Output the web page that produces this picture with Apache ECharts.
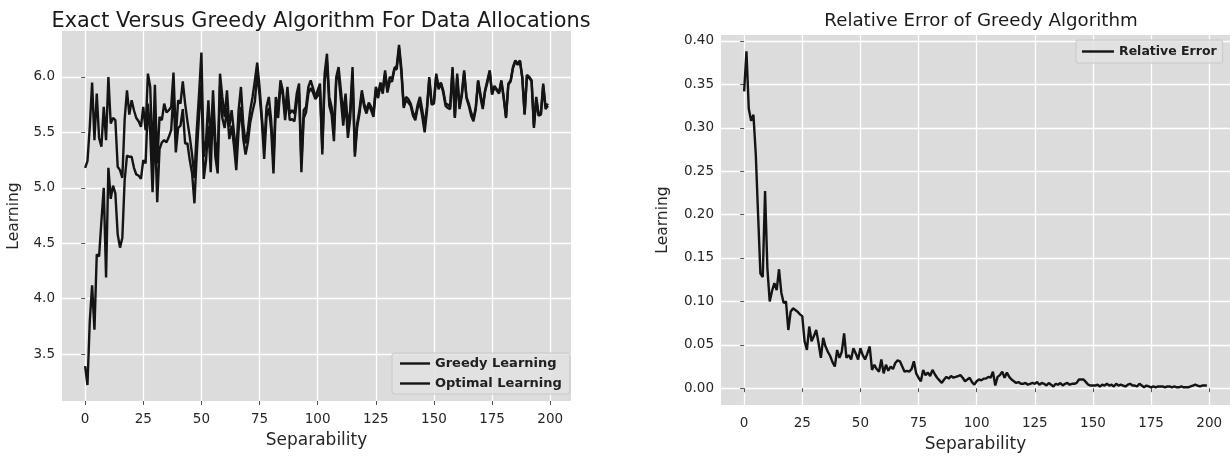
<!DOCTYPE html>
<html><head><meta charset="utf-8">
<script src="https://cdn.jsdelivr.net/npm/echarts@6/dist/echarts.min.js"></script>
<style>html,body{margin:0;padding:0;background:#fff}#c{width:1230px;height:458px}</style>
</head><body><div id="c"></div><script>
const leftTitle = 'Exact Versus Greedy Algorithm For Data Allocations';
const rightTitle = 'Relative Error of Greedy Algorithm';
const xName = 'Separability';
const yName = 'Learning';
const xTicks = [0, 25, 50, 75, 100, 125, 150, 175, 200];
const leftYTicks = [3.5, 4.0, 4.5, 5.0, 5.5, 6.0];
const rightYTicks = [0, 0.05, 0.10, 0.15, 0.20, 0.25, 0.30, 0.35, 0.40];

const optimalLearning = [
5.18,5.24,5.55,5.95,5.43,5.85,5.45,5.37,5.73,5.43,
6.00,5.58,5.63,5.61,5.19,5.16,5.09,5.62,5.88,5.66,
5.79,5.70,5.63,5.60,5.55,5.73,5.52,6.03,5.91,5.24,
5.93,5.22,5.64,5.61,5.76,5.68,5.70,5.73,6.04,5.46,
5.79,5.76,5.96,5.76,5.60,5.46,5.30,5.09,5.52,5.85,
6.22,5.28,5.43,5.79,5.40,5.88,5.43,5.25,6.03,5.82,
5.64,5.88,5.55,5.70,5.50,5.31,5.70,5.91,5.58,5.40,
5.52,5.70,5.82,5.97,6.13,5.91,5.64,5.37,5.73,5.82,
5.61,5.24,5.82,5.70,5.97,5.88,5.67,5.91,5.67,5.70,
5.67,5.85,5.94,5.22,5.70,5.73,5.91,5.97,5.90,5.82,
5.88,5.94,5.35,6.03,6.21,5.82,5.73,5.52,6.00,6.09,
5.88,5.67,5.85,5.55,5.70,6.09,5.32,5.58,5.71,5.88,
5.76,5.70,5.77,5.73,5.67,5.91,5.85,5.95,5.89,6.06,
5.88,6.00,5.98,6.08,6.10,6.29,6.08,5.74,5.82,5.80,
5.76,5.68,5.64,5.75,5.82,5.70,5.56,5.73,6.00,5.77,
5.78,6.03,5.91,5.95,5.88,5.76,5.75,5.73,6.09,5.64,
6.03,5.73,5.85,6.06,5.82,5.76,5.68,5.62,5.73,5.97,
5.85,5.73,5.88,5.97,6.06,5.85,5.92,5.89,5.86,5.97,
5.82,5.64,5.94,5.97,6.09,6.15,6.12,6.15,6.00,5.67,
6.02,6.00,5.97,5.56,5.82,5.67,5.67,5.94,5.73,5.76
];

const greedyLearning = [
3.39,3.22,3.80,4.12,3.72,4.40,4.38,4.70,5.00,4.19,
5.18,4.90,5.02,4.95,4.58,4.46,4.55,5.07,5.29,5.28,
5.28,5.18,5.12,5.11,5.08,5.25,5.22,5.76,5.49,4.96,
5.57,4.87,5.35,5.41,5.43,5.41,5.46,5.52,5.86,5.32,
5.54,5.56,5.71,5.40,5.40,5.25,5.13,4.86,5.30,5.66,
5.93,5.08,5.25,5.56,5.14,5.76,5.28,5.13,5.92,5.63,
5.54,5.72,5.44,5.56,5.38,5.16,5.52,5.73,5.44,5.30,
5.41,5.59,5.69,5.78,6.03,5.84,5.60,5.26,5.64,5.72,
5.53,5.13,5.73,5.63,5.92,5.84,5.61,5.83,5.61,5.62,
5.60,5.77,5.86,5.14,5.63,5.68,5.85,5.90,5.86,5.80,
5.83,5.88,5.30,5.96,6.14,5.74,5.66,5.42,5.98,6.01,
5.79,5.56,5.78,5.45,5.63,6.03,5.28,5.55,5.67,5.85,
5.73,5.67,5.75,5.70,5.64,5.88,5.81,5.93,5.85,6.03,
5.86,5.96,5.96,6.07,6.07,6.26,6.04,5.72,5.79,5.77,
5.74,5.65,5.61,5.72,5.76,5.64,5.50,5.69,5.98,5.75,
5.76,6.01,5.89,5.94,5.86,5.74,5.72,5.71,6.07,5.63,
6.00,5.71,5.83,6.04,5.81,5.74,5.65,5.60,5.71,5.96,
5.82,5.71,5.87,5.95,6.05,5.84,5.91,5.88,5.85,5.96,
5.81,5.63,5.93,5.96,6.08,6.14,6.11,6.14,5.99,5.66,
6.01,5.99,5.96,5.54,5.80,5.65,5.66,5.92,5.71,5.74
];

const relativeError = [
0.342,0.388,0.322,0.308,0.315,0.270,0.200,0.132,0.128,0.227,
0.138,0.100,0.112,0.121,0.113,0.137,0.110,0.098,0.100,0.067,
0.088,0.092,0.090,0.088,0.085,0.083,0.054,0.044,0.071,0.054,
0.060,0.067,0.052,0.035,0.058,0.048,0.042,0.037,0.030,0.025,
0.044,0.035,0.042,0.063,0.035,0.038,0.033,0.046,0.040,0.033,
0.046,0.038,0.033,0.040,0.048,0.021,0.027,0.022,0.019,0.033,
0.017,0.027,0.020,0.025,0.022,0.029,0.032,0.031,0.025,0.019,
0.020,0.019,0.022,0.031,0.017,0.012,0.008,0.021,0.015,0.018,
0.014,0.021,0.016,0.012,0.009,0.006,0.010,0.013,0.011,0.014,
0.012,0.013,0.014,0.015,0.012,0.008,0.010,0.012,0.007,0.004,
0.008,0.010,0.009,0.011,0.011,0.013,0.012,0.019,0.003,0.013,
0.015,0.019,0.012,0.018,0.013,0.010,0.008,0.006,0.007,0.005,
0.005,0.006,0.004,0.005,0.006,0.005,0.007,0.004,0.006,0.005,
0.003,0.006,0.004,0.002,0.005,0.004,0.006,0.003,0.005,0.006,
0.004,0.005,0.005,0.006,0.010,0.010,0.010,0.007,0.004,0.003,
0.003,0.003,0.004,0.002,0.004,0.003,0.005,0.003,0.004,0.002,
0.005,0.003,0.004,0.003,0.002,0.004,0.005,0.003,0.003,0.002,
0.005,0.003,0.001,0.003,0.002,0.001,0.002,0.001,0.002,0.002,
0.002,0.001,0.002,0.002,0.001,0.002,0.001,0.001,0.002,0.001,
0.001,0.001,0.002,0.003,0.004,0.003,0.002,0.003,0.003,0.003
];

const FONT = 'DejaVu Sans';
const TXT = '#262626';
const BG = '#dcdcdc';
const LINE = '#141414';

function xAxisCfg(gridIndex) {
  return {
    type: 'value', gridIndex, min: -9.95, max: 208.95,
    name: xName, nameLocation: 'middle', nameGap: 31,
    nameTextStyle: { fontFamily: FONT, fontSize: 17, color: TXT },
    axisLine: { show: false },
    axisTick: { show: true, customValues: xTicks, length: 4, lineStyle: { color: '#555', width: 1 } },
    axisLabel: { customValues: xTicks, fontFamily: FONT, fontSize: 13.5, color: TXT, margin: 11 },
    splitLine: { show: true, lineStyle: { color: '#ffffff', width: 1.3 } }
  };
}
function yAxisCfg(gridIndex, min, max, ticks, digits, gap) {
  return {
    type: 'value', gridIndex, min, max,
    name: yName, nameLocation: 'middle', nameGap: gap,
    nameTextStyle: { fontFamily: FONT, fontSize: 15.5, color: TXT },
    axisLine: { show: false },
    axisTick: { show: true, customValues: ticks, length: 4, lineStyle: { color: '#555', width: 1 } },
    axisLabel: { customValues: ticks, fontFamily: FONT, fontSize: 13.5, color: TXT, margin: 7,
      formatter: v => Number(v).toFixed(digits) },
    splitLine: { show: true, lineStyle: { color: '#ffffff', width: 1.3 } }
  };
}

const legendText = { fontFamily: FONT, fontSize: 13, fontWeight: 'bold', color: '#202020' };

const chart = echarts.init(document.getElementById('c'), null, { renderer: 'canvas' });
chart.setOption({
  backgroundColor: '#ffffff',
  animation: false,
  title: [
    { text: leftTitle, left: 316, top: 6, textAlign: 'center',
      textStyle: { fontFamily: FONT, fontSize: 20.8, fontWeight: 'normal', color: '#1a1a1a' } },
    { text: rightTitle, left: 976, top: 7, textAlign: 'center',
      textStyle: { fontFamily: FONT, fontSize: 18.2, fontWeight: 'normal', color: '#1a1a1a' } }
  ],
  grid: [
    { left: 62, top: 31, width: 509, height: 370, show: true, backgroundColor: BG, borderWidth: 0 },
    { left: 721, top: 35, width: 510, height: 373, show: true, backgroundColor: BG, borderWidth: 0 }
  ],
  xAxis: [xAxisCfg(0), xAxisCfg(1)],
  yAxis: [
    yAxisCfg(0, 3.076, 6.415, leftYTicks, 1, 40),
    yAxisCfg(1, -0.0194, 0.4069, rightYTicks, 2, 50)
  ],
  legend: [
    { data: ['Greedy Learning', 'Optimal Learning'], orient: 'vertical', left: 392, top: 353,
      icon: 'rect', itemWidth: 30, itemHeight: 2.4, itemGap: 7, padding: [4, 8, 4, 8],
      backgroundColor: 'rgba(226,226,226,0.85)', borderColor: '#c8c8c8', borderWidth: 1, borderRadius: 2,
      textStyle: legendText },
    { data: ['Relative Error'], orient: 'vertical', left: 1076, top: 40,
      icon: 'rect', itemWidth: 32, itemHeight: 2.4, padding: [5, 6, 5, 6],
      backgroundColor: 'rgba(226,226,226,0.85)', borderColor: '#c8c8c8', borderWidth: 1, borderRadius: 2,
      textStyle: Object.assign({}, legendText, { fontSize: 12.5 }) }
  ],
  series: [
    { name: 'Greedy Learning', type: 'line', xAxisIndex: 0, yAxisIndex: 0, symbol: 'none',
      lineStyle: { color: LINE, width: 2.4 }, itemStyle: { color: LINE },
      data: greedyLearning.map((v, i) => [i, v]) },
    { name: 'Optimal Learning', type: 'line', xAxisIndex: 0, yAxisIndex: 0, symbol: 'none',
      lineStyle: { color: LINE, width: 2.4 }, itemStyle: { color: LINE },
      data: optimalLearning.map((v, i) => [i, v]) },
    { name: 'Relative Error', type: 'line', xAxisIndex: 1, yAxisIndex: 1, symbol: 'none',
      lineStyle: { color: LINE, width: 2.4 }, itemStyle: { color: LINE },
      data: relativeError.map((v, i) => [i, v]) }
  ]
});
</script></body></html>
